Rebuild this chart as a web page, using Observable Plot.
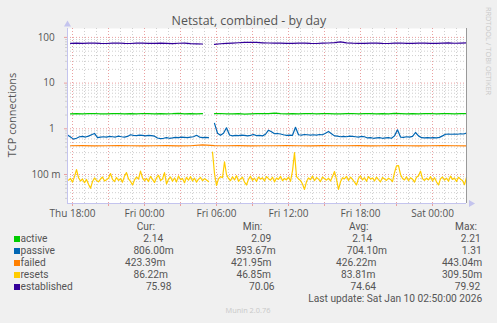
<!DOCTYPE html>
<html>
<head>
<meta charset="utf-8">
<script src="https://cdn.jsdelivr.net/npm/d3@7"></script>
<script src="https://cdn.jsdelivr.net/npm/@observablehq/plot@0.6"></script>
<style>
  html, body { margin: 0; padding: 0; background: #f0f0f0; }
  #wrap { position: relative; width: 497px; height: 323px; overflow: hidden; font-family: "Open Sans", sans-serif; color: #555; }
  .t { position: absolute; white-space: nowrap; line-height: 1; }
  .lg { font-family: Roboto, "Open Sans", sans-serif; }
  #chart { position: absolute; left: 0; top: 0; }
</style>
</head>
<body>
<div id="wrap"><div id="chart"></div></div>
<script>
// ---------- data ----------
const seriesNames = ["active", "passive", "failed", "resets", "established"];
const seriesColors = ["#00cc00", "#0066b3", "#ff8000", "#ffcc00", "#330099"];

// active, 30-minute samples ending at last update
const activeValues = [2.13,2.15,2.12,2.14,2.16,2.13,2.11,2.14,2.15,2.12,2.14,2.13,2.16,2.14,2.12,2.15,2.13,2.14,2.17,2.12,2.14,2.13,2.15,null,2.14,2.16,2.13,2.12,2.15,2.09,2.13,2.14,2.16,2.15,2.21,2.14,2.12,2.15,2.13,2.14,2.16,2.12,2.14,2.15,2.13,2.11,2.14,2.16,2.13,2.15,2.14,2.12,2.15,2.13,2.17,2.14,2.12,2.15,2.13,2.14,2.16,2.12,2.14,2.15,2.13,2.15,2.14];
// passive, 15-minute samples
const passiveValues = [
  .73,.66,.594,.62,.67,.68,.66,.69,.74,.79,
  .64,.66,.67,.66,.68,.67,.66,.69,.67,.66,
  .68,.74,.72,.71,.73,.72,.70,.72,.71,.69,
  .63,.61,.62,.64,.62,.63,.65,.64,.66,.65,
  .64,.66,.67,.72,.66,.64,.65,.64,null,1.31,
  .80,.72,.80,1.05,.73,.70,.72,.71,.73,.72,
  .70,.72,.75,.71,.72,.70,.76,.93,.86,.78,
  .79,.77,.74,.72,.73,.72,1.08,.74,.73,.75,
  .74,.73,.74,.73,.75,.74,.80,.87,.78,.70,
  .69,.67,.68,.67,.69,.68,.67,.66,.68,.67,
  .63,.64,.62,.63,.64,.62,.63,.64,.62,.70,
  .95,.66,.65,.67,.66,.68,.83,.70,.64,.63,
  .64,.63,.64,.63,.65,.70,.76,.77,.76,.77,
  .76,.78,.77,.806];
// failed, hourly samples
const failedValues = [.425,.427,.424,.426,.428,.425,.423,.426,.427,.424,.426,.443,.428,.425,.427,.424,.426,.425,.428,.426,.424,.427,.425,.426,.428,.424,.426,.427,.425,.422,.426,.427,.425,.4234];
// resets, 10-minute samples
const resetsValues = [
  .075,.082,.068,.090,.128,.085,.072,.080,.066,.078,
  .061,.050,.070,.084,.074,.069,.079,.088,.072,.077,
  .083,.105,.078,.070,.086,.074,.081,.068,.092,.110,
  .080,.071,.059,.076,.088,.079,.118,.084,.073,.082,
  .070,.091,.078,.067,.085,.096,.074,.080,.110,.062,
  .079,.088,.071,.084,.069,.093,.077,.082,.066,.087,
  .075,.090,.072,.083,.068,.079,.086,.073,.081,.076,
  .070,null,.3095,.105,.058,.080,.090,.085,.190,.100,
  .082,.073,.089,.076,.094,.071,.080,.087,.068,.059,
  .078,.092,.074,.083,.070,.088,.079,.085,.072,.090,
  .081,.075,.087,.069,.084,.078,.091,.073,.082,.076,
  .088,.071,.120,.300,.090,.080,.074,.062,.047,.070,
  .084,.077,.092,.073,.086,.079,.070,.088,.081,.075,
  .083,.072,.090,.116,.078,.047,.069,.085,.080,.091,
  .074,.087,.078,.068,.059,.082,.093,.076,.085,.071,
  .090,.079,.084,.072,.088,.077,.069,.086,.080,.074,
  .083,.078,.070,.110,.154,.156,.100,.082,.076,.089,
  .073,.085,.079,.068,.087,.094,.118,.081,.074,.083,
  .076,.090,.072,.085,.069,.059,.080,.088,.075,.083,
  .071,.092,.078,.084,.070,.087,.079,.074,.060,.0862];
// established, 30-minute samples
const establishedValues = [
  74.2,75.1,73.8,74.6,75.3,74.0,73.6,74.9,75.4,74.1,
  73.5,74.7,75.0,74.2,73.7,74.8,74.3,73.4,74.5,75.2,
  73.2,72.4,71.8,null,70.1,72.6,74.1,75.0,76.3,77.8,
  78.4,77.5,76.2,75.4,74.6,75.3,74.2,73.8,74.7,75.2,
  74.0,73.6,74.9,75.5,76.8,79.9,76.1,74.8,74.2,73.7,
  74.6,75.1,74.0,73.5,74.8,75.4,74.3,73.9,74.6,75.0,
  74.1,73.7,74.9,75.6,74.4,75.2,75.98];
const seriesSteps = [30, 15, 60, 10, 30]; // minutes between samples

// legend texts
const curLabels = ["2.14", "806.00m", "423.39m", "86.22m", "75.98"];
const minLabels = ["2.09", "593.67m", "421.95m", "46.85m", "70.06"];
const avgLabels = ["2.14", "704.10m", "426.22m", "83.81m", "74.64"];
const maxLabels = ["2.21", "1.31", "443.04m", "309.50m", "79.92"];
const columnHeads = ["Cur:", "Min:", "Avg:", "Max:"];

// axis ticks
const yTickValues = [0.1, 1, 10, 100];
const yTickLabels = ["100 m", "1\u2007", "10\u2007", "100\u2007"];
const xTickLabels = ["Thu 18:00", "Fri 00:00", "Fri 06:00", "Fri 12:00", "Fri 18:00", "Sat 00:00"];
const xTickTimes = [Date.UTC(2026,0,8,18), Date.UTC(2026,0,9,0), Date.UTC(2026,0,9,6), Date.UTC(2026,0,9,12), Date.UTC(2026,0,9,18), Date.UTC(2026,0,10,0)];

const startTime = Date.UTC(2026, 0, 8, 17, 35);
const endTime = Date.UTC(2026, 0, 10, 2, 50);
const yDomain = [0.02318, 156.6];

// ---------- build ----------
const allValues = [activeValues, passiveValues, failedValues, resetsValues, establishedValues];
const rows = [];
allValues.forEach((vals, s) => {
  const n = vals.length, step = seriesSteps[s] * 60000;
  vals.forEach((v, i) => rows.push({name: seriesNames[s], t: new Date(endTime - (n - 1 - i) * step), v}));
});

const hour = 3600000;
const xMinor = d3.range(xTickTimes[0], endTime, hour).map(t => new Date(t));
const xMajor = d3.range(xTickTimes[0], endTime, 3 * hour).map(t => new Date(t));
const yMinor = [];
for (let e = -2; e <= 2; e++) for (let k = 2; k <= 9; k++) {
  const v = k * Math.pow(10, e);
  if (v > yDomain[0] && v < yDomain[1]) yMinor.push(v);
}
const yLabelMap = new Map(yTickValues.map((v, i) => [v, yTickLabels[i]]));
const xLabelMap = new Map(xTickTimes.map((t, i) => [t, xTickLabels[i]]));

const majorColor = "#eaa0a0";
const minorColor = "#cfcfcf";
const axisColor = "#c4c4ee";
const H = 225;

const chart = Plot.plot({
  width: 497, height: H,
  marginLeft: 67, marginRight: 31, marginTop: 28, marginBottom: H - 203,
  style: {background: "transparent", fontFamily: "'Open Sans', sans-serif", fontSize: "10px", color: "#555", overflow: "visible"},
  x: {type: "utc", domain: [new Date(startTime), new Date(endTime)]},
  y: {type: "log", domain: yDomain},
  color: {domain: seriesNames, range: seriesColors},
  marks: [
    Plot.frame({fill: "white", stroke: null}),
    Plot.ruleY(yMinor, {stroke: minorColor, strokeDasharray: "1,2"}),
    Plot.ruleX(xMinor, {stroke: minorColor, strokeDasharray: "1,2"}),
    Plot.ruleY(yTickValues, {stroke: majorColor, strokeDasharray: "1,2"}),
    Plot.ruleX(xMajor, {stroke: majorColor, strokeDasharray: "1,2"}),
    ...seriesNames.map((name, s) => Plot.line(rows.filter(d => d.name === name), {x: "t", y: "v", stroke: seriesColors[s], strokeWidth: 1.2})),
    Plot.axisY(yMinor, {tickSize: 2, tickFormat: () => "", stroke: minorColor, label: null}),
    Plot.axisY(yTickValues, {tickSize: 3, tickPadding: 4, tickFormat: d => yLabelMap.get(d), stroke: majorColor, fill: "#555", label: null, fontSize: 10}),
    Plot.axisX(xMajor, {tickSize: 3, tickPadding: 3, tickFormat: d => xLabelMap.get(+d) ?? "", stroke: majorColor, fill: "#555", label: null, fontSize: 10}),
    Plot.ruleX([new Date(startTime)], {stroke: axisColor}),
    Plot.ruleY([yDomain[0]], {stroke: axisColor}),
    Plot.ruleX([new Date(endTime)], {stroke: "#999"}),
    Plot.dot([{t: new Date(startTime), v: yDomain[1]}], {x: "t", y: "v", dy: -4, symbol: "triangle", r: 2.6, fill: axisColor, stroke: null}),
    Plot.dot([{t: new Date(endTime), v: yDomain[0]}], {x: "t", y: "v", dx: 4.5, rotate: 90, symbol: "triangle", r: 2.6, fill: axisColor, stroke: null})
  ]
});
document.getElementById("chart").appendChild(chart);

// ---------- texts ----------
const wrap = document.getElementById("wrap");
function place(text, x, y, o = {}) {
  const el = document.createElement("div");
  el.className = "t" + (o.cls ? " " + o.cls : "");
  el.textContent = text;
  el.style.left = x + "px";
  el.style.top = y + "px";
  el.style.fontSize = (o.size || 10) + "px";
  el.style.color = o.color || "#555";
  const ax = o.anchor === "start" ? "0" : "-50%";
  el.style.transform = o.rotate ? `translate(-50%, -50%) rotate(${o.rotate}deg)` : `translate(${ax}, -50%)`;
  wrap.appendChild(el);
  return el;
}
place("Netstat, combined - by day", 248.9, 20.7, {size: 12.4});
place("TCP connections", 10.8, 114.5, {size: 11, rotate: -90});
place("RRDTOOL / TOBI OETIKER", 487.5, 51, {size: 7.4, color: "#c8c8c8", rotate: 90});

const LS = 10.2; // legend font size
const headX = [145.8, 252.5, 358.8, 466];
columnHeads.forEach((h, i) => place(h, headX[i], 227.3, {size: LS, cls: "lg"}));
const rowY = [239.3, 251.3, 263.3, 275.3, 287.3];
const curX = [153.3, 153.5, 145.2, 150.7, 158.7];
const minX = [261.3, 255.5, 251.2, 253.7, 261.8];
const avgX = [362.2, 366.8, 356.2, 358.3, 363.3];
const maxX = [470.8, 471.7, 462, 462, 467.5];
seriesNames.forEach((name, s) => {
  const sw = document.createElement("div");
  sw.style.cssText = `position:absolute;left:14px;top:${rowY[s] - 3}px;width:6px;height:6px;background:${seriesColors[s]}`;
  wrap.appendChild(sw);
  place(name, 20.5, rowY[s], {anchor: "start", size: LS, cls: "lg"});
  place(curLabels[s], curX[s], rowY[s], {size: LS, cls: "lg"});
  place(minLabels[s], minX[s], rowY[s], {size: LS, cls: "lg"});
  place(avgLabels[s], avgX[s], rowY[s], {size: LS, cls: "lg"});
  place(maxLabels[s], maxX[s], rowY[s], {size: LS, cls: "lg"});
});
place("Last update: Sat Jan 10 02:50:00 2026", 395.3, 299.3, {size: LS, cls: "lg"});
place("Munin 2.0.76", 248, 311, {size: 7.4, color: "#c8c8c8"});
</script>
</body>
</html>
